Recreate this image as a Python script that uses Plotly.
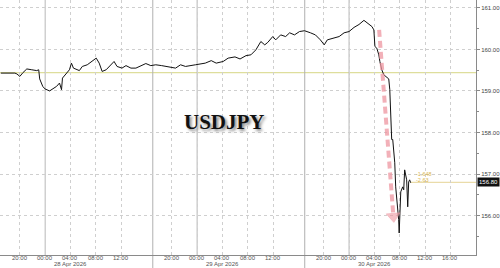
import plotly.graph_objects as go
import pandas as pd

# ---- data ----
times = [
    "2026-04-27 17:00", "2026-04-27 19:13", "2026-04-27 19:32", "2026-04-27 20:00", "2026-04-27 20:29",
    "2026-04-27 21:06", "2026-04-27 21:53", "2026-04-27 22:40", "2026-04-27 22:59", "2026-04-27 23:08",
    "2026-04-27 23:37", "2026-04-27 23:58", "2026-04-28 00:42", "2026-04-28 01:10", "2026-04-28 01:48",
    "2026-04-28 02:16", "2026-04-28 02:35", "2026-04-28 02:44", "2026-04-28 03:22", "2026-04-28 03:50",
    "2026-04-28 04:09", "2026-04-28 04:28", "2026-04-28 05:24", "2026-04-28 05:52", "2026-04-28 06:39",
    "2026-04-28 07:26", "2026-04-28 08:04", "2026-04-28 08:32", "2026-04-28 09:00", "2026-04-28 09:38",
    "2026-04-28 10:06", "2026-04-28 10:53", "2026-04-28 11:21", "2026-04-28 12:08", "2026-04-28 12:46",
    "2026-04-28 13:33", "2026-04-28 14:20", "2026-04-28 15:07", "2026-04-28 15:54", "2026-04-28 16:41",
    "2026-04-28 17:28", "2026-04-28 18:24", "2026-04-28 19:30", "2026-04-28 20:36", "2026-04-28 21:23",
    "2026-04-28 22:10", "2026-04-28 23:44", "2026-04-29 01:17", "2026-04-29 02:14", "2026-04-29 03:01",
    "2026-04-29 04:07", "2026-04-29 04:54", "2026-04-29 05:59", "2026-04-29 06:47", "2026-04-29 07:43",
    "2026-04-29 08:30", "2026-04-29 09:17", "2026-04-29 10:04", "2026-04-29 10:41", "2026-04-29 11:10",
    "2026-04-29 11:57", "2026-04-29 12:25", "2026-04-29 13:12", "2026-04-29 13:59", "2026-04-29 14:37",
    "2026-04-29 15:23", "2026-04-29 16:10", "2026-04-29 16:58", "2026-04-29 17:54", "2026-04-29 18:41",
    "2026-04-29 19:28", "2026-04-29 20:05", "2026-04-29 20:34", "2026-04-29 21:39", "2026-04-29 22:26",
    "2026-04-29 23:13", "2026-04-30 00:00", "2026-04-30 00:47", "2026-04-30 01:34", "2026-04-30 02:21",
    "2026-04-30 02:49", "2026-04-30 03:17", "2026-04-30 03:37", "2026-04-30 03:55", "2026-04-30 04:05",
    "2026-04-30 04:23", "2026-04-30 04:42", "2026-04-30 04:52", "2026-04-30 05:10", "2026-04-30 05:29",
    "2026-04-30 05:57", "2026-04-30 06:16", "2026-04-30 06:26", "2026-04-30 06:35", "2026-04-30 06:44",
    "2026-04-30 06:54", "2026-04-30 07:13", "2026-04-30 07:22", "2026-04-30 07:41", "2026-04-30 07:50",
    "2026-04-30 07:55", "2026-04-30 08:00", "2026-04-30 08:10", "2026-04-30 08:28", "2026-04-30 08:38",
    "2026-04-30 08:47", "2026-04-30 09:06", "2026-04-30 09:16", "2026-04-30 09:25", "2026-04-30 09:34",
    "2026-04-30 09:44",
]
prices = [
    159.43, 159.43, 159.41, 159.35, 159.44,
    159.53, 159.51, 159.49, 159.51, 159.29,
    159.11, 159.05, 159.00, 159.04, 159.11,
    159.19, 159.03, 159.31, 159.43, 159.51,
    159.67, 159.55, 159.49, 159.59, 159.63,
    159.73, 159.79, 159.67, 159.47, 159.51,
    159.59, 159.71, 159.59, 159.55, 159.61,
    159.55, 159.55, 159.61, 159.66, 159.61,
    159.63, 159.61, 159.58, 159.55, 159.63,
    159.59, 159.63, 159.67, 159.73, 159.67,
    159.71, 159.79, 159.82, 159.77, 159.85,
    159.87, 159.99, 160.19, 160.11, 160.17,
    160.31, 160.23, 160.35, 160.31, 160.40,
    160.35, 160.43, 160.45, 160.40, 160.35,
    160.23, 160.11, 160.23, 160.27, 160.31,
    160.40, 160.43, 160.53, 160.60, 160.70,
    160.64, 160.60, 160.55, 160.47, 160.07,
    160.03, 159.87, 159.71, 159.51, 159.39,
    159.33, 159.29, 159.03, 158.47, 157.83,
    157.83, 157.27, 156.69, 156.21, 155.90,
    155.58, 156.07, 156.57, 156.69, 156.62,
    157.10, 156.86, 156.21, 156.81, 156.86,
    156.79,
]

TITLE = "USDJPY"
LAST_PRICE = 156.80
REF_LEVEL = 159.44
CHANGE_LABELS = ["-1.648", "-2.63"]
CHANGE_LABEL_Y = [157.00, 156.85]
CHANGE_LABEL_X = "2026-04-30 10:20"

X_RANGE = ["2026-04-27 16:52", "2026-04-30 20:03"]
Y_RANGE = [155.05, 161.19]

tick_times = [
    "2026-04-27 20:00", "2026-04-28 00:00", "2026-04-28 04:00", "2026-04-28 08:00", "2026-04-28 12:00",
    "2026-04-28 20:00", "2026-04-29 00:00", "2026-04-29 04:00", "2026-04-29 08:00", "2026-04-29 12:00",
    "2026-04-29 20:00", "2026-04-30 00:00", "2026-04-30 04:00", "2026-04-30 08:00", "2026-04-30 12:00",
    "2026-04-30 16:00",
]
tick_labels = [pd.Timestamp(t).strftime("%H:%M") for t in tick_times]
midnight_lines = ["2026-04-28 00:00", "2026-04-29 00:00", "2026-04-30 00:00"]
session_breaks = ["2026-04-28 17:00", "2026-04-29 17:00"]
day_label_times = ["2026-04-28 04:00", "2026-04-29 04:00", "2026-04-30 04:00"]
day_labels = ["28 Apr 2026", "29 Apr 2026", "30 Apr 2026"]

# arrow (time, price) endpoints
arrow_times = ["2026-04-30 04:45", "2026-04-30 07:00"]
arrow_prices = [160.47, 155.98]

FONT = "Liberation Sans"

fig = go.Figure()

fig.add_trace(go.Scatter(
    x=times, y=prices, mode="lines",
    line=dict(color="#111111", width=1), hoverinfo="skip", showlegend=False,
))

fig.add_trace(go.Scatter(
    x=arrow_times, y=arrow_prices, mode="lines+markers",
    line=dict(color="rgba(238,150,160,0.75)", width=4, dash="7px,4px"),
    marker=dict(symbol="triangle-up", size=[0, 12], angleref="previous",
                color="rgba(238,150,160,0.85)"),
    hoverinfo="skip", showlegend=False,
))

shapes = []
shapes.append(dict(type="line", xref="paper", yref="y", x0=0, x1=1, y0=REF_LEVEL, y1=REF_LEVEL,
                   line=dict(color="#dede9c", width=1.2), layer="below"))
shapes.append(dict(type="line", xref="x", yref="y", x0=times[-1], x1=X_RANGE[1],
                   y0=LAST_PRICE, y1=LAST_PRICE, line=dict(color="#eadcaa", width=1.2), layer="below"))
for t in midnight_lines:
    shapes.append(dict(type="line", xref="x", yref="paper", x0=t, x1=t, y0=0, y1=1,
                       line=dict(color="#b8b8b8", width=1), layer="below"))
for t in session_breaks:
    shapes.append(dict(type="line", xref="x", yref="paper", x0=t, x1=t, y0=-0.06, y1=1,
                       line=dict(color="#b0b0b0", width=1), layer="below"))

annotations = []
annotations.append(dict(
    x="2026-04-29 04:20", y=158.26, xref="x", yref="y", text="<b>" + TITLE + "</b>",
    showarrow=False,
    font=dict(family="Liberation Serif", size=21, color="#111111", shadow="2px 2px 3px #888888"),
))
for t, lab in zip(tick_times, tick_labels):
    annotations.append(dict(x=t, y=-0.013, xref="x", yref="paper", text=lab, showarrow=False,
                            yanchor="middle", font=dict(family=FONT, size=6, color="#555555")))
for t, lab in zip(day_label_times, day_labels):
    annotations.append(dict(x=t, y=-0.037, xref="x", yref="paper", text=lab, showarrow=False,
                            yanchor="middle", font=dict(family=FONT, size=6, color="#555555")))
for lab, yv in zip(CHANGE_LABELS, CHANGE_LABEL_Y):
    annotations.append(dict(x=CHANGE_LABEL_X, y=yv, xref="x", yref="y", text=lab, showarrow=False,
                            xanchor="left", yanchor="middle",
                            font=dict(family=FONT, size=5.5, color="#d9b650")))
annotations.append(dict(x=1.0, y=LAST_PRICE, xref="paper", yref="y", text=f"{LAST_PRICE:.2f}",
                        showarrow=False, xanchor="left", yanchor="middle", xshift=1,
                        bgcolor="#111111", borderpad=1,
                        font=dict(family=FONT, size=6, color="#ffffff")))

fig.update_layout(
    width=500, height=268,
    margin=dict(l=0, r=20, t=0, b=13),
    paper_bgcolor="white", plot_bgcolor="white",
    shapes=shapes, annotations=annotations,
    xaxis=dict(
        type="date", range=X_RANGE, tickvals=tick_times, showticklabels=False,
        showgrid=True, gridcolor="#cfcfcf", griddash="dot", gridwidth=1,
        showline=True, linecolor="#8a8a8a", linewidth=1,
        ticks="", zeroline=False,
    ),
    yaxis=dict(
        side="right", range=Y_RANGE, dtick=1, tick0=156, tickformat=".2f",
        showgrid=True, gridcolor="#cfcfcf", griddash="dot", gridwidth=1,
        showline=True, linecolor="#8a8a8a", linewidth=1, mirror=False,
        ticks="outside", ticklen=3, tickcolor="#8a8a8a",
        minor=dict(dtick=0.5, ticks="outside", ticklen=2, tickcolor="#8a8a8a", showgrid=False),
        tickfont=dict(family=FONT, size=6, color="#444444"), zeroline=False,
    ),
)

fig.write_html("out.html")
